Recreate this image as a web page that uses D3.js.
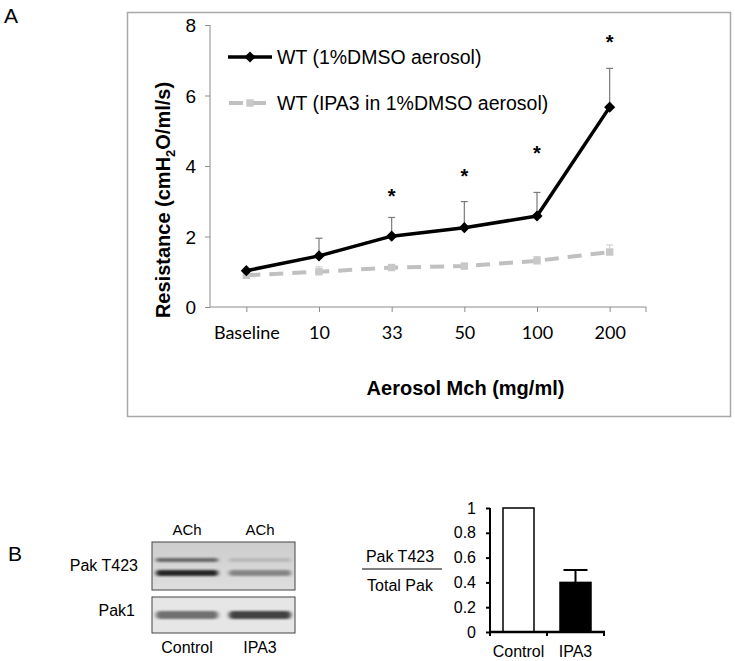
<!DOCTYPE html>
<html><head><meta charset="utf-8">
<script src="https://cdn.jsdelivr.net/npm/d3@7"></script>
<style>
html,body{margin:0;padding:0;background:#fff;}
svg{display:block;font-family:"Liberation Sans",Arial,sans-serif;}
</style></head>
<body>
<svg id="c" width="735" height="661"></svg>
<script>
// ---- Panel A data ----
const categories = ["Baseline","10","33","50","100","200"];
const dmso      = [1.03, 1.45, 2.01, 2.25, 2.58, 5.67];
const dmsoErr   = [0.00, 0.50, 0.53, 0.74, 0.67, 1.10];
const ipa3      = [0.90, 1.00, 1.12, 1.16, 1.31, 1.56];
const ipa3Err   = [0.03, 0.14, 0.05, 0.05, 0.12, 0.20];
const sigY      = [null, null, 3.27, 3.82, 4.47, 7.62];
const yTicks    = [0, 2, 4, 6, 8];
const seriesNames = ["WT (1%DMSO aerosol)", "WT (IPA3 in 1%DMSO aerosol)"];

// ---- Panel B data ----
const barCats  = ["Control", "IPA3"];
const barVals  = [1.0, 0.40];
const barErr   = [0.0, 0.10];
const barTicks = [0, 0.2, 0.4, 0.6, 0.8, 1];
const barTickLabels = ["0","0.2","0.4","0.6","0.8","1"];
const blotLanes = ["Control", "IPA3"];
const blotRows  = ["Pak T423", "Pak1"];
// band intensities (0 = white, 1 = black) per lane
const t423Upper = [0.62, 0.25];
const t423Lower = [0.90, 0.48];
const pak1Band  = [0.58, 0.78];

const svg = d3.select("#c");

// ================= Panel A =================
svg.append("text").attr("x",4).attr("y",23).attr("font-size",21).text("A");

svg.append("rect").attr("x",127.5).attr("y",12.5).attr("width",603).attr("height",404)
  .attr("fill","none").attr("stroke","#a8a8a8").attr("stroke-width",1.5);

const x = d3.scalePoint().domain(categories).range([210,646]).padding(0.5);
const y = d3.scaleLinear().domain([0,8]).range([307,25]);

// y axis
const gy = svg.append("g").attr("transform","translate(210,0)")
  .call(d3.axisLeft(y).tickValues(yTicks).tickSize(5).tickPadding(9).tickFormat(d3.format("d")));
gy.selectAll("path,line").attr("stroke","#8c8c8c").attr("stroke-width",1);
gy.selectAll("text").attr("font-size",19).attr("font-family","Liberation Sans, Arial").attr("fill","#000").attr("dy","0.36em");
gy.select(".domain").attr("d","M0,25V307");

// x axis
const gx = svg.append("g").attr("transform","translate(0,307)")
  .call(d3.axisBottom(x).tickSize(5).tickPadding(14));
gx.selectAll("path,line").attr("stroke","#8c8c8c").attr("stroke-width",1);
gx.select(".domain").attr("d","M210,0H646");
gx.selectAll("text").attr("font-size",18).attr("font-family","Lato, 'Open Sans', sans-serif").attr("fill","#000");
gx.append("line").attr("x1",646).attr("x2",646).attr("y1",0).attr("y2",5).attr("stroke","#8c8c8c");

// axis titles
const yl = svg.append("text").attr("transform","translate(170,200) rotate(-90)")
  .attr("text-anchor","middle").attr("font-size",20).attr("font-weight","bold");
yl.append("tspan").text("Resistance (cmH");
yl.append("tspan").attr("font-size",13).attr("dy",5).text("2");
yl.append("tspan").attr("dy",-5).text("O/ml/s)");

svg.append("text").attr("x",465.5).attr("y",395).attr("text-anchor","middle")
  .attr("font-size",20).attr("font-weight","bold").text("Aerosol Mch (mg/ml)");

// error bars (upper only)
function errBars(vals, errs, color, width){
  const g = svg.append("g");
  categories.forEach((c,i)=>{
    if(errs[i] <= 0) return;
    const cx = x(c), y0 = y(vals[i]), y1 = y(vals[i]+errs[i]);
    g.append("line").attr("x1",cx).attr("x2",cx).attr("y1",y0).attr("y2",y1)
      .attr("stroke",color).attr("stroke-width",width);
    g.append("line").attr("x1",cx-3.5).attr("x2",cx+3.5).attr("y1",y1).attr("y2",y1)
      .attr("stroke",color).attr("stroke-width",width);
  });
}
errBars(ipa3, ipa3Err, "#d0d0d0", 1.2);
errBars(dmso, dmsoErr, "#7a7a7a", 1.2);

const line = d3.line().x((d,i)=>x(categories[i])).y(d=>y(d));

// gray dashed series
svg.append("path").datum(ipa3).attr("d",line).attr("fill","none")
  .attr("stroke","#c0c0c0").attr("stroke-width",4).attr("stroke-dasharray","14,9");
svg.append("g").selectAll("path").data(ipa3).join("path")
  .attr("transform",(d,i)=>`translate(${x(categories[i])},${y(d)})`)
  .attr("d",d3.symbol(d3.symbolSquare,55)).attr("fill","#c8c8c8");

// black series
svg.append("path").datum(dmso).attr("d",line).attr("fill","none")
  .attr("stroke","#000").attr("stroke-width",3.5).attr("stroke-linejoin","round");
svg.append("g").selectAll("path").data(dmso).join("path")
  .attr("transform",(d,i)=>`translate(${x(categories[i])},${y(d)}) rotate(45)`)
  .attr("d",d3.symbol(d3.symbolSquare,62)).attr("fill","#000");

// significance asterisks
svg.append("g").selectAll("text").data(sigY.map((v,i)=>({v,i})).filter(d=>d.v!==null)).join("text")
  .attr("x",d=>x(categories[d.i])).attr("y",d=>y(d.v)+11)
  .attr("text-anchor","middle").attr("font-size",20).attr("font-weight","bold").text("*");

// legend
const leg = svg.append("g");
leg.append("line").attr("x1",228).attr("x2",272).attr("y1",57).attr("y2",57)
  .attr("stroke","#000").attr("stroke-width",3.5);
leg.append("path").attr("transform","translate(250,57) rotate(45)")
  .attr("d",d3.symbol(d3.symbolSquare,62)).attr("fill","#000");
leg.append("line").attr("x1",228).attr("x2",272).attr("y1",103).attr("y2",103)
  .attr("stroke","#c0c0c0").attr("stroke-width",4).attr("stroke-dasharray","14,9").attr("stroke-dashoffset",-1);
leg.append("path").attr("transform","translate(250,103)")
  .attr("d",d3.symbol(d3.symbolSquare,55)).attr("fill","#c8c8c8");
leg.append("text").attr("x",277).attr("y",63.5).attr("font-size",19.5).text(seriesNames[0]);
leg.append("text").attr("x",277).attr("y",110).attr("font-size",19.5).text(seriesNames[1]);

// ================= Panel B =================
svg.append("text").attr("x",8).attr("y",561).attr("font-size",21).text("B");

const defs = svg.append("defs");
defs.append("filter").attr("id","blur").attr("x","-20%").attr("y","-80%").attr("width","140%").attr("height","260%")
  .append("feGaussianBlur").attr("stdDeviation","2.2 1.3");
const gBg = defs.append("linearGradient").attr("id","bg1").attr("x1",0).attr("y1",0).attr("x2",0).attr("y2",1);
gBg.append("stop").attr("offset","0%").attr("stop-color","#cdcdcd");
gBg.append("stop").attr("offset","100%").attr("stop-color","#dedede");

const lane = d3.scaleBand().domain(blotLanes).range([152,295]).paddingInner(0.12).paddingOuter(0.04);
const gray = v => d3.interpolateRgb("#f0f0f0","#111")(v);

// lane header labels
svg.append("g").selectAll("text").data(blotLanes).join("text")
  .attr("x",d=>lane(d)+lane.bandwidth()/2).attr("y",535).attr("text-anchor","middle")
  .attr("font-size",15).text("ACh");

// top blot box
svg.append("rect").attr("x",152).attr("y",542).attr("width",143).attr("height",48).attr("fill","url(#bg1)");
const bandG1 = svg.append("g").attr("filter","url(#blur)");
blotLanes.forEach((l,i)=>{
  bandG1.append("rect").attr("x",lane(l)+1).attr("y",558).attr("width",lane.bandwidth()-2).attr("height",4)
    .attr("fill",gray(t423Upper[i])).attr("rx",2);
  bandG1.append("rect").attr("x",lane(l)+1).attr("y",570).attr("width",lane.bandwidth()-2).attr("height",6)
    .attr("fill",gray(t423Lower[i])).attr("rx",3);
});
svg.append("rect").attr("x",152).attr("y",542).attr("width",143).attr("height",48)
  .attr("fill","none").attr("stroke","#444").attr("stroke-width",1);

// bottom blot box
svg.append("rect").attr("x",152).attr("y",597).attr("width",143).attr("height",36).attr("fill","#e6e6e6");
const bandG2 = svg.append("g").attr("filter","url(#blur)");
blotLanes.forEach((l,i)=>{
  bandG2.append("rect").attr("x",lane(l)+1).attr("y",611).attr("width",lane.bandwidth()-2).attr("height",8)
    .attr("fill",gray(pak1Band[i])).attr("rx",4);
});
svg.append("rect").attr("x",152).attr("y",597).attr("width",143).attr("height",36)
  .attr("fill","none").attr("stroke","#444").attr("stroke-width",1);

// row labels
svg.append("text").attr("x",138).attr("y",571).attr("text-anchor","end").attr("font-size",16).text(blotRows[0]);
svg.append("text").attr("x",135).attr("y",616).attr("text-anchor","end").attr("font-size",16).text(blotRows[1]);
// lane labels
svg.append("g").selectAll("text").data(blotLanes).join("text")
  .attr("x",d=>lane(d)+lane.bandwidth()/2).attr("y",653).attr("text-anchor","middle")
  .attr("font-size",16).text(d=>d);

// ratio label
svg.append("text").attr("x",400).attr("y",562).attr("text-anchor","middle").attr("font-size",16).text("Pak T423");
svg.append("line").attr("x1",362).attr("x2",442).attr("y1",569).attr("y2",569).attr("stroke","#000").attr("stroke-width",1.2);
svg.append("text").attr("x",400).attr("y",591).attr("text-anchor","middle").attr("font-size",16).text("Total Pak");

// bar chart
const xb = d3.scaleBand().domain(barCats).range([490,604]).paddingInner(0.456).paddingOuter(0.228);
const yb = d3.scaleLinear().domain([0,1]).range([632,508]);

svg.append("g").selectAll("rect").data(barVals).join("rect")
  .attr("x",(d,i)=>xb(barCats[i])).attr("y",d=>yb(d))
  .attr("width",xb.bandwidth()).attr("height",d=>yb(0)-yb(d))
  .attr("fill",(d,i)=>i===0?"#fff":"#000").attr("stroke","#000").attr("stroke-width",1.5);

barVals.forEach((v,i)=>{
  if(barErr[i]<=0) return;
  const cx = xb(barCats[i])+xb.bandwidth()/2;
  svg.append("line").attr("x1",cx).attr("x2",cx).attr("y1",yb(v)).attr("y2",yb(v+barErr[i])).attr("stroke","#000").attr("stroke-width",2);
  svg.append("line").attr("x1",cx-12).attr("x2",cx+12).attr("y1",yb(v+barErr[i])).attr("y2",yb(v+barErr[i])).attr("stroke","#000").attr("stroke-width",2);
});

const gyb = svg.append("g").attr("transform","translate(490,0)")
  .call(d3.axisLeft(yb).tickValues(barTicks).tickSize(4).tickPadding(10).tickFormat((d,i)=>barTickLabels[i]));
gyb.selectAll("path,line").attr("stroke","#000").attr("stroke-width",2);
gyb.select(".domain").attr("d","M0,508V632");
gyb.selectAll("text").attr("font-size",16).attr("font-family","Liberation Sans, Arial").attr("fill","#000");

const gxb = svg.append("g").attr("transform","translate(0,632)");
gxb.append("line").attr("x1",489).attr("x2",605).attr("y1",0).attr("y2",0).attr("stroke","#000").attr("stroke-width",2.5);
const bounds = [490, xb(barCats[1]) - xb.step()*xb.paddingInner()/2, 604];
gxb.selectAll("line.t").data(bounds).join("line").attr("class","t")
  .attr("x1",d=>d).attr("x2",d=>d).attr("y1",0).attr("y2",4).attr("stroke","#000").attr("stroke-width",2);
gxb.selectAll("text").data(barCats).join("text")
  .attr("x",d=>xb(d)+xb.bandwidth()/2).attr("y",25).attr("text-anchor","middle")
  .attr("font-size",16).text(d=>d);
</script>
</body></html>
